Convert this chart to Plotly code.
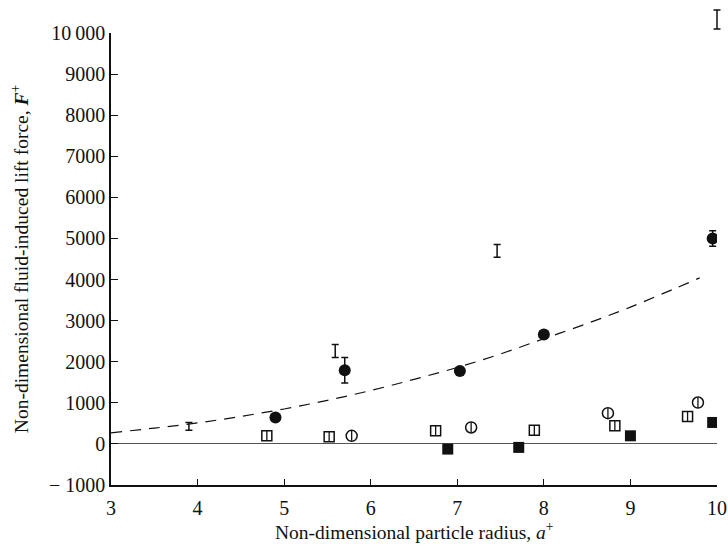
import plotly.graph_objects as go

# Filled circles with error bars
circ_x = [4.90, 5.70, 7.03, 8.00, 9.95]
circ_y = [645, 1790, 1775, 2665, 5000]
circ_err = [0, 310, 0, 0, 190]

# Error-bar-only measurements (range shown, no symbol)
bar_x = [3.90, 5.59, 7.46]
bar_y = [425, 2260, 4695]
bar_err = [95, 160, 155]

# Error-bar-only measurement lying above the plotted range
high_x = [10.0]
high_y = [10330]
high_err = [230]

# Open squares (bar through the symbol)
osq_x = [4.80, 5.52, 6.75, 7.89, 8.82, 9.66]
osq_y = [197, 172, 318, 335, 440, 667]

# Open circles (bar through the symbol)
ocirc_x = [5.78, 7.16, 8.74, 9.78]
ocirc_y = [197, 400, 748, 1007]

# Filled squares
fsq_x = [6.89, 7.71, 9.00, 9.95]
fsq_y = [-126, -85, 197, 522]

# Dashed reference curve
curve_x = [3.0, 3.5, 4.0, 4.5, 5.0, 5.5, 6.0, 6.5, 7.0, 7.5, 8.0, 8.5, 9.0, 9.5, 9.8]
curve_y = [270, 385, 510, 670, 850, 1060, 1300, 1570, 1860, 2190, 2560, 2930, 3330, 3770, 4040]

# Axis ticks
x_ticks = [3, 4, 5, 6, 7, 8, 9, 10]
y_ticks = [-1000, 0, 1000, 2000, 3000, 4000, 5000, 6000, 7000, 8000, 9000, 10000]
y_ticktext = ["\u2212 1000", "0", "1000", "2000", "3000", "4000", "5000",
              "6000", "7000", "8000", "9000", "10\u2009000"]

X_TITLE = "Non-dimensional particle radius, <i>a</i><sup>+</sup>"
Y_TITLE = "Non-dimensional fluid-induced lift force, <b><i>F</i></b><sup>+</sup>"

INK = "#111111"
FONT = "Liberation Serif, Times New Roman, serif"

W, H = 728, 553
M_L, M_R, M_T, M_B = 111, 4, 4, 68
AXIS_TOP_PX = 33      # pixel row of the top of the y axis
AXIS_RIGHT_PX = 717   # pixel column of the right end of the x axis
X_TITLE_PX = 531      # pixel row of the x-axis title centre
X_MIN, X_MAX = 3, 10
Y_MIN, Y_MAX = -1000, 10000

plot_w = W - M_L - M_R
plot_h = H - M_T - M_B
x_dom_right = (AXIS_RIGHT_PX - M_L) / plot_w
y_dom_top = (H - M_B - AXIS_TOP_PX) / plot_h
# hidden companion axes with identical scales, covering the whole plot box
x2_max = X_MIN + (X_MAX - X_MIN) / x_dom_right
y2_max = Y_MIN + (Y_MAX - Y_MIN) / y_dom_top

fig = go.Figure()

fig.add_trace(go.Scatter(
    x=curve_x, y=curve_y, mode="lines", line_shape="spline",
    line=dict(color=INK, width=1.2, dash="11px,8px"), hoverinfo="skip",
))

fig.add_trace(go.Scatter(
    x=bar_x, y=bar_y, mode="markers",
    marker=dict(size=1, color="rgba(0,0,0,0)"),
    error_y=dict(type="data", array=bar_err, visible=True,
                 color=INK, thickness=1.5, width=3.5),
))

fig.add_trace(go.Scatter(
    x=high_x, y=high_y, mode="markers", xaxis="x2", yaxis="y2",
    marker=dict(size=1, color="rgba(0,0,0,0)"),
    error_y=dict(type="data", array=high_err, visible=True,
                 color=INK, thickness=1.5, width=3.5),
))

fig.add_trace(go.Scatter(
    x=circ_x, y=circ_y, mode="markers",
    marker=dict(symbol="circle", size=12, color=INK),
    error_y=dict(type="data", array=circ_err, visible=True,
                 color=INK, thickness=1.5, width=3.5),
))

bar_half = [120] * len(osq_x)
fig.add_trace(go.Scatter(
    x=osq_x, y=osq_y, mode="markers",
    marker=dict(symbol="square-open", size=10, color=INK, line=dict(width=1.5)),
    error_y=dict(type="data", array=bar_half, visible=True,
                 color=INK, thickness=1.3, width=0),
))

bar_half_c = [120] * len(ocirc_x)
fig.add_trace(go.Scatter(
    x=ocirc_x, y=ocirc_y, mode="markers",
    marker=dict(symbol="circle-open", size=11, color=INK, line=dict(width=1.5)),
    error_y=dict(type="data", array=bar_half_c, visible=True,
                 color=INK, thickness=1.3, width=0),
))

fig.add_trace(go.Scatter(
    x=fsq_x, y=fsq_y, mode="markers",
    marker=dict(symbol="square", size=11, color=INK),
))

# x-axis title placed just below the tick labels
fig.add_annotation(
    text=X_TITLE, xref="paper", yref="paper",
    x=x_dom_right / 2, y=-(X_TITLE_PX - (H - M_B)) / plot_h,
    xanchor="center", yanchor="middle", showarrow=False,
    font=dict(family=FONT, size=19.5, color=INK),
)

fig.update_layout(
    width=W, height=H,
    margin=dict(l=M_L, r=M_R, t=M_T, b=M_B, autoexpand=False),
    paper_bgcolor="white", plot_bgcolor="rgba(0,0,0,0)",
    showlegend=False,
    font=dict(family=FONT, size=20, color=INK),
    xaxis=dict(
        domain=[0, x_dom_right], anchor="y", automargin=False,
        range=[X_MIN, X_MAX], tickvals=x_ticks, ticks="inside", ticklen=6,
        tickwidth=1.2, tickcolor=INK, showline=True, linecolor=INK,
        linewidth=1.5, showgrid=False, zeroline=False,
        tickfont=dict(size=20), ticklabelstandoff=4,
    ),
    yaxis=dict(
        domain=[0, y_dom_top], anchor="x", automargin=False,
        range=[Y_MIN, Y_MAX], tickvals=y_ticks, ticktext=y_ticktext,
        ticks="inside", ticklen=7, tickwidth=1.2, tickcolor=INK,
        showline=True, linecolor=INK, linewidth=1.5, showgrid=False,
        zeroline=True, zerolinecolor="#555555", zerolinewidth=1,
        tickfont=dict(size=20),
        title=dict(text=Y_TITLE, font=dict(size=19.5)),
    ),
    xaxis2=dict(
        domain=[0, 1], anchor="y2", range=[X_MIN, x2_max],
        visible=False, showgrid=False, zeroline=False, automargin=False,
    ),
    yaxis2=dict(
        domain=[0, 1], anchor="x2", range=[Y_MIN, y2_max],
        visible=False, showgrid=False, zeroline=False, automargin=False,
    ),
)

fig.write_html("out.html")
